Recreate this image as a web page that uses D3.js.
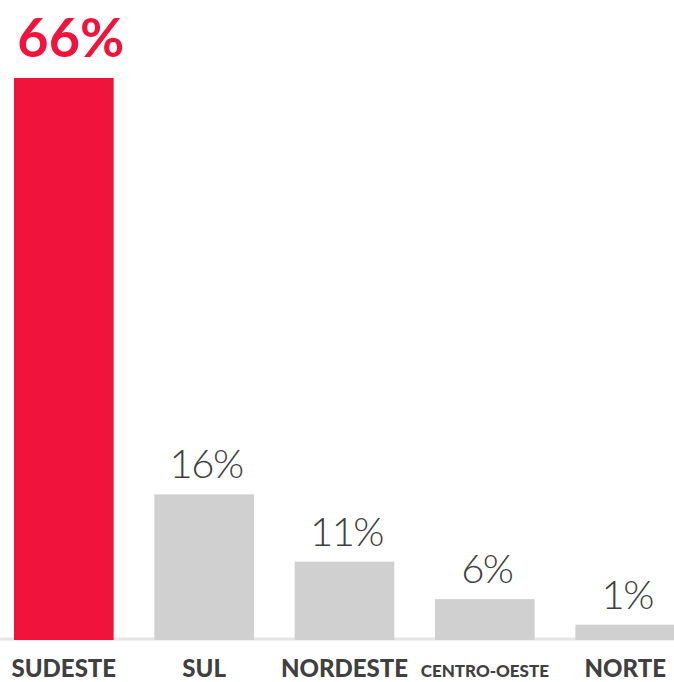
<!DOCTYPE html>
<html><head><meta charset="utf-8">
<script src="https://cdn.jsdelivr.net/npm/d3@7"></script>
<style>html,body{margin:0;padding:0;background:#fff;}svg{display:block;}</style>
</head><body>
<svg id="chart" width="674" height="682"></svg>
<script>
// Data
const categories = ["SUDESTE", "SUL", "NORDESTE", "CENTRO-OESTE", "NORTE"];
const valueLabels = ["66%", "16%", "11%", "6%", "1%"];
const values = [66, 16, 11, 6, 1];
// bar heights as drawn in the picture (in % units of the 66% bar)
const barValues = [66, 17.1, 9.2, 4.8, 1.8];
const highlight = ["SUDESTE"];

const W = 674, H = 682;
const baseY = 640;
const svg = d3.select("#chart");

const x = d3.scaleBand().domain(categories).range([14, 675]).paddingInner(0.29).paddingOuter(0);
const y = d3.scaleLinear().domain([0, 66]).range([baseY, 78]);

const data = categories.map((c, i) => ({c, v: values[i], b: barValues[i], l: valueLabels[i]}));

svg.append("line").attr("x1", 0).attr("x2", W).attr("y1", baseY - 1).attr("y2", baseY - 1)
  .attr("stroke", "#e6e6e6").attr("stroke-width", 3);

svg.selectAll("rect.bar").data(data).enter().append("rect")
  .attr("class", "bar")
  .attr("x", d => x(d.c)).attr("width", x.bandwidth())
  .attr("y", d => y(d.b)).attr("height", d => baseY - y(d.b))
  .attr("fill", d => highlight.includes(d.c) ? "#f0143c" : "#d0d0d0");

svg.selectAll("text.val").data(data).enter().append("text")
  .attr("class", "val")
  .attr("x", d => x(d.c) + x.bandwidth() / 2 + (highlight.includes(d.c) ? 7 : 2))
  .attr("y", d => y(d.b) - (highlight.includes(d.c) ? 21 : 16))
  .attr("text-anchor", "middle")
  .attr("font-family", "Lato, sans-serif")
  .attr("font-weight", d => highlight.includes(d.c) ? 700 : 300)
  .attr("font-size", d => highlight.includes(d.c) ? 54 : 40)
  .attr("letter-spacing", d => highlight.includes(d.c) ? 0 : -1.5)
  .attr("fill", d => highlight.includes(d.c) ? "#f0143c" : "#404040")
  .text(d => d.l);

svg.selectAll("text.cat").data(data).enter().append("text")
  .attr("class", "cat")
  .attr("x", d => x(d.c) + x.bandwidth() / 2)
  .attr("y", 677)
  .attr("text-anchor", "middle")
  .attr("font-family", "Lato, sans-serif")
  .attr("font-weight", 900)
  .attr("font-size", d => d.c.length > 10 ? 17 : 24)
  .attr("fill", "#404040")
  .text(d => d.c);
</script>
</body></html>
